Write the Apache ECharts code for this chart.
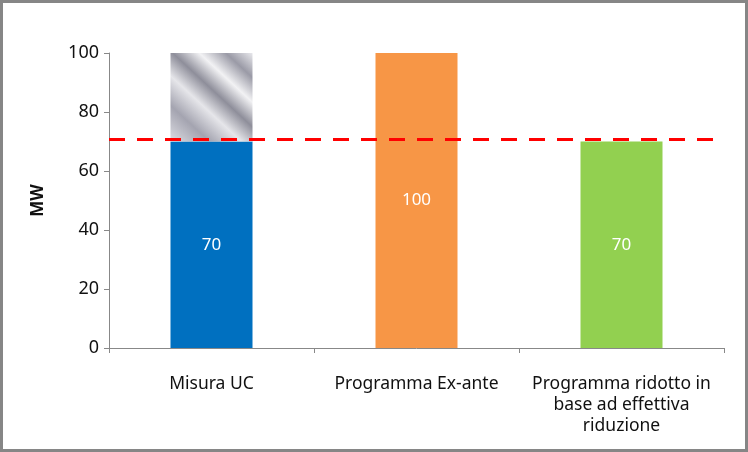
<!DOCTYPE html>
<html><head><meta charset="utf-8">
<script src="https://cdn.jsdelivr.net/npm/echarts@6/dist/echarts.min.js"></script>
<style>html,body{margin:0;padding:0;background:#fff}#c{width:748px;height:452px;box-sizing:border-box;border:3px solid #868686}</style>
</head><body><div id="c"></div>
<script>
const categories = ['Misura UC', 'Programma Ex-ante', 'Programma ridotto in\nbase ad effettiva\nriduzione'];
const baseValues = [70, 100, 70];
const excessValues = [30, 0, 0];
const baseColors = ['#0070C0', '#F79646', '#92D050'];
const thresholdValue = 70.7;
const yTicks = [0, 20, 40, 60, 80, 100];

const chart = echarts.init(document.getElementById('c'), null, {renderer: 'canvas'});
const font = 'Noto Sans';
const silver = new echarts.graphic.LinearGradient(1, 0, 0, 1, [
  {offset: 0, color: '#e8e8ec'}, {offset: 0.15, color: '#9a9aa6'},
  {offset: 0.3, color: '#f2f2f4'}, {offset: 0.45, color: '#8e8e9a'},
  {offset: 0.6, color: '#e6e6ea'}, {offset: 0.78, color: '#a4a4b0'},
  {offset: 1, color: '#dcdce2'}
]);
chart.setOption({
  animation: false,
  textStyle: {fontFamily: font},
  grid: {left: 106, right: 21, top: 50, bottom: 101},
  xAxis: {
    type: 'category', data: categories,
    axisLine: {lineStyle: {color: '#888', width: 1}},
    axisTick: {show: true, length: 5, interval: 0, lineStyle: {color: '#888'}},
    axisLabel: {interval: 0, color: '#111', fontSize: 17.5, margin: 26, lineHeight: 21, fontFamily: font}
  },
  yAxis: {
    type: 'value', min: yTicks[0], max: yTicks[yTicks.length - 1], interval: 20,
    name: 'MW', nameLocation: 'middle', nameGap: 62, nameRotate: 90,
    nameTextStyle: {fontSize: 17, fontWeight: 'bold', color: '#111', fontFamily: font},
    axisLine: {show: true, lineStyle: {color: '#888'}},
    axisTick: {show: true, length: 5, lineStyle: {color: '#888'}},
    axisLabel: {color: '#111', fontSize: 18, margin: 10, fontFamily: font},
    splitLine: {show: false}
  },
  series: [
    {
      type: 'bar', stack: 's', barWidth: '40%',
      data: baseValues.map((v, i) => ({value: v, itemStyle: {color: baseColors[i]}})),
      label: {show: true, position: 'inside', color: '#fff', fontSize: 17, fontFamily: font},
      markLine: {
        silent: true, symbol: 'none',
        lineStyle: {color: '#FF0000', type: [16, 12], width: 3},
        label: {show: false},
        data: [{yAxis: thresholdValue}]
      }
    },
    {
      type: 'bar', stack: 's', barWidth: '40%',
      data: excessValues.map(v => ({value: v, itemStyle: {color: silver}})),
      label: {show: false}
    }
  ]
});
</script></body></html>
